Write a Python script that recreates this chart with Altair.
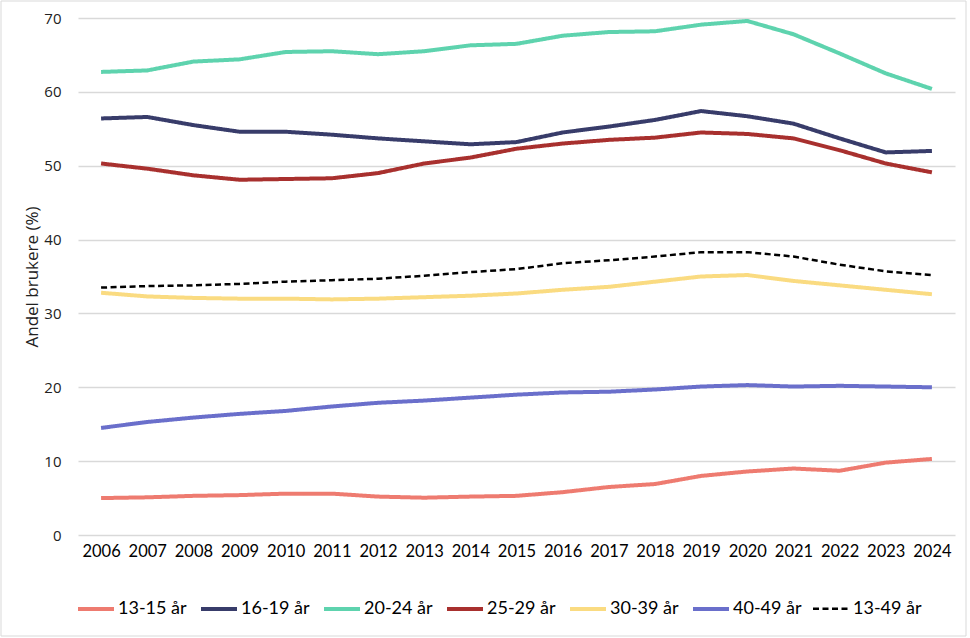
import altair as alt
import pandas as pd

years = [str(y) for y in range(2006, 2025)]

# Share of users (%) per age group
s_13_15 = [5.0, 5.1, 5.3, 5.4, 5.6, 5.6, 5.2, 5.05, 5.2, 5.3, 5.8, 6.5, 6.9, 8.0, 8.6, 9.0, 8.7, 9.8, 10.3]
s_16_19 = [56.4, 56.6, 55.5, 54.6, 54.6, 54.2, 53.7, 53.3, 52.9, 53.2, 54.5, 55.3, 56.2, 57.4, 56.7, 55.7, 53.7, 51.8, 52.0]
s_20_24 = [62.7, 62.9, 64.1, 64.4, 65.4, 65.5, 65.1, 65.5, 66.3, 66.5, 67.6, 68.1, 68.2, 69.1, 69.6, 67.8, 65.2, 62.5, 60.4]
s_25_29 = [50.3, 49.6, 48.7, 48.1, 48.2, 48.3, 49.0, 50.3, 51.1, 52.3, 53.0, 53.5, 53.8, 54.5, 54.3, 53.7, 52.1, 50.3, 49.1]
s_30_39 = [32.8, 32.3, 32.1, 32.0, 32.0, 31.9, 32.0, 32.2, 32.4, 32.7, 33.2, 33.6, 34.3, 35.0, 35.2, 34.4, 33.8, 33.2, 32.6]
s_40_49 = [14.5, 15.3, 15.9, 16.4, 16.8, 17.4, 17.9, 18.2, 18.6, 19.0, 19.3, 19.4, 19.7, 20.1, 20.3, 20.1, 20.2, 20.1, 20.0]
s_13_49 = [33.5, 33.7, 33.8, 34.0, 34.3, 34.5, 34.7, 35.1, 35.6, 36.0, 36.8, 37.2, 37.7, 38.3, 38.3, 37.7, 36.6, 35.7, 35.2]

groups = ["13-15 år", "16-19 år", "20-24 år", "25-29 år", "30-39 år", "40-49 år", "13-49 år"]
series = [s_13_15, s_16_19, s_20_24, s_25_29, s_30_39, s_40_49, s_13_49]
colors = ["#EE7B70", "#383C6A", "#5ED3AE", "#A8302E", "#FADB81", "#6A6FCB", "#000000"]
dashes = [[1, 0]] * 6 + [[6, 3.5]]
widths = [4, 4, 4, 4, 4, 4, 2.5]

rows = []
for g, vals in zip(groups, series):
    for y, v in zip(years, vals):
        rows.append({"År": y, "Gruppe": g, "Andel": v})
df = pd.DataFrame(rows)

LABEL_FONT = "Lato, Carlito, Calibri, sans-serif"
AXIS_FONT = "Open Sans, Segoe UI, sans-serif"

lines = alt.Chart(df).mark_line(strokeCap="butt", strokeJoin="round").encode(
    x=alt.X(
        "År:O",
        sort=years,
        scale=alt.Scale(type="point", padding=0.5),
        axis=alt.Axis(
            title=None, domain=False, ticks=False, grid=False,
            labelAngle=0, labelFont=LABEL_FONT, labelFontSize=16.5,
            labelColor="#000000", labelPadding=8,
        ),
    ),
    y=alt.Y(
        "Andel:Q",
        scale=alt.Scale(domain=[0, 70], nice=False),
        axis=alt.Axis(
            title="Andel brukere (%)", values=[0, 10, 20, 30, 40, 50, 60, 70],
            domain=False, ticks=False, gridColor="#D9D9D9", gridWidth=1.3,
            labelFont=AXIS_FONT, labelFontSize=15, labelColor="#222222",
            labelPadding=17, titleFont=AXIS_FONT, titleFontSize=17,
            titleFontWeight="normal", titleColor="#222222", titlePadding=2,
        ),
    ),
    color=alt.Color(
        "Gruppe:N",
        sort=groups,
        scale=alt.Scale(domain=groups, range=colors),
        legend=alt.Legend(
            title=None, orient="none", direction="horizontal", columns=7,
            legendX=-2, legendY=571,
            symbolType="stroke", symbolSize=1296,
            labelFont=LABEL_FONT, labelFontSize=18, labelColor="#000000",
            labelOffset=2, columnPadding=6, labelLimit=200,
        ),
    ),
    strokeDash=alt.StrokeDash(
        "Gruppe:N", sort=groups,
        scale=alt.Scale(domain=groups, range=dashes),
    ),
    strokeWidth=alt.StrokeWidth(
        "Gruppe:N", sort=groups,
        scale=alt.Scale(type="ordinal", domain=groups, range=widths),
    ),
    order=alt.Order("År:O"),
)

# Thin frame around the whole chart area
frame = alt.Chart(pd.DataFrame({"k": [0]})).mark_rect(
    fill=None, stroke="#D9D9D9", strokeWidth=1
).encode(
    x=alt.value(-77), x2=alt.value(888),
    y=alt.value(-17), y2=alt.value(618),
)

chart = alt.layer(lines, frame).properties(
    width=877, height=517,
    autosize=alt.AutoSizeParams(type="none"),
    padding={"left": 78, "top": 18, "right": 15, "bottom": 103},
    background="white",
).configure_view(stroke=None)

chart.save("out.html", embed_options={"renderer": "svg", "actions": False})
